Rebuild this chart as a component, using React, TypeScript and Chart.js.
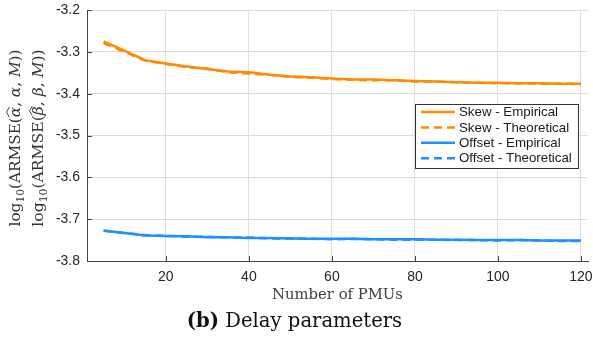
import React, { useEffect, useRef } from "react";
import { Chart, registerables } from "chart.js";

Chart.register(...registerables);

const PMUS = [5, 10, 15, 20, 25, 30, 35, 40, 45, 50, 55, 60, 65, 70, 75, 80, 85, 90, 95, 100, 105, 110, 115, 120];
const SKEW_EMP = [-3.275, -3.297, -3.32, -3.328, -3.335, -3.341, -3.347, -3.349, -3.355, -3.359, -3.361, -3.364, -3.366, -3.366, -3.368, -3.37, -3.371, -3.373, -3.374, -3.374, -3.375, -3.375, -3.376, -3.376];
const SKEW_THEO = [-3.279, -3.3, -3.321, -3.329, -3.337, -3.34, -3.349, -3.352, -3.355, -3.36, -3.362, -3.365, -3.367, -3.368, -3.368, -3.371, -3.371, -3.373, -3.374, -3.375, -3.375, -3.376, -3.376, -3.377];
const OFFSET_EMP = [-3.727, -3.733, -3.739, -3.74, -3.741, -3.743, -3.743, -3.745, -3.745, -3.746, -3.747, -3.747, -3.747, -3.748, -3.748, -3.748, -3.749, -3.749, -3.75, -3.75, -3.75, -3.751, -3.751, -3.751];
const OFFSET_THEO = [-3.728, -3.733, -3.738, -3.74, -3.742, -3.742, -3.744, -3.744, -3.746, -3.746, -3.747, -3.748, -3.747, -3.748, -3.749, -3.749, -3.749, -3.75, -3.75, -3.751, -3.75, -3.751, -3.752, -3.752];

const X_TICKS = [20, 40, 60, 80, 100, 120];
const Y_TICKS = [-3.8, -3.7, -3.6, -3.5, -3.4, -3.3, -3.2];
const SERIES_LABELS = ["Skew - Empirical", "Skew - Theoretical", "Offset - Empirical", "Offset - Theoretical"];
const X_TITLE = "Number of PMUs";
const CAPTION_BOLD = "(b)";
const CAPTION_TEXT = " Delay parameters";

const ORANGE = "rgb(255,140,0)";
const BLUE = "rgb(30,144,255)";
const AXIS_COLOR = "#444444";
const SERIF = "'DejaVu Serif', 'Liberation Serif', serif";
const SANS = "'Liberation Sans', Arial, sans-serif";

type Piece = { t: string; sub?: boolean; italic?: boolean; hat?: boolean };

function drawRichRotated(ctx: CanvasRenderingContext2D, pieces: Piece[], x: number, cy: number, targetLen: number) {
  const fontFor = (p: Piece, size: number) =>
    `${p.italic ? "italic " : ""}${p.sub ? Math.round(size * 0.7 * 10) / 10 : size}px ${SERIF}`;
  const measure = (size: number) => {
    let total = 0;
    const widths = pieces.map((p) => {
      ctx.font = fontFor(p, size);
      const w = ctx.measureText(p.t).width;
      total += w;
      return w;
    });
    return { total, widths };
  };
  const m0 = measure(16);
  const size = Math.round((16 * targetLen) / m0.total * 10) / 10;
  const { total, widths } = measure(size);
  ctx.save();
  ctx.translate(x, cy);
  ctx.rotate(-Math.PI / 2);
  ctx.fillStyle = "#333333";
  ctx.strokeStyle = "#333333";
  ctx.textAlign = "left";
  ctx.textBaseline = "alphabetic";
  let u = -total / 2;
  const base = size * 0.35;
  pieces.forEach((p, i) => {
    ctx.font = fontFor(p, size);
    const v = p.sub ? base + size * 0.22 : base;
    ctx.fillText(p.t, u, v);
    if (p.hat) {
      const w = widths[i];
      const top = base - size * 0.72;
      ctx.lineWidth = 0.9;
      ctx.beginPath();
      ctx.moveTo(u, top);
      ctx.lineTo(u + w / 2, top - size * 0.18);
      ctx.lineTo(u + w, top);
      ctx.stroke();
    }
    u += widths[i];
  });
  ctx.restore();
}

function fitSize(ctx: CanvasRenderingContext2D, parts: { t: string; bold?: boolean }[], target: number) {
  let w = 0;
  parts.forEach((p) => {
    ctx.font = `${p.bold ? "bold " : ""}16px ${SERIF}`;
    w += ctx.measureText(p.t).width;
  });
  return Math.round((16 * target) / w * 10) / 10;
}

const decorPlugin = {
  id: "decor",
  afterDraw(chart: any) {
    const ctx: CanvasRenderingContext2D = chart.ctx;
    const area = chart.chartArea;
    const xs = chart.scales.x;
    const ys = chart.scales.y;
    ctx.save();
    // inward ticks
    ctx.strokeStyle = AXIS_COLOR;
    ctx.lineWidth = 1;
    ctx.beginPath();
    X_TICKS.forEach((v) => {
      const px = Math.round(xs.getPixelForValue(v)) + 0.5;
      ctx.moveTo(px, area.bottom);
      ctx.lineTo(px, area.bottom - 5);
    });
    Y_TICKS.forEach((v) => {
      const py = Math.round(ys.getPixelForValue(v)) + 0.5;
      ctx.moveTo(area.left, py);
      ctx.lineTo(area.left + 5, py);
    });
    ctx.stroke();

    // legend
    const lx = 415.5, ly = 104.5, lw = 163, lh = 64;
    ctx.fillStyle = "#ffffff";
    ctx.fillRect(lx, ly, lw, lh);
    ctx.strokeStyle = "#333333";
    ctx.lineWidth = 1;
    ctx.strokeRect(lx, ly, lw, lh);
    const ds = chart.data.datasets;
    ctx.font = `13.3px ${SANS}`;
    ctx.textBaseline = "middle";
    ctx.textAlign = "left";
    ds.forEach((d: any, i: number) => {
      const y = 112 + i * 15.4;
      ctx.strokeStyle = d.borderColor;
      ctx.lineWidth = 2.5;
      ctx.setLineDash(d.borderDash && d.borderDash.length ? [8, 5] : []);
      ctx.beginPath();
      ctx.moveTo(421, y);
      ctx.lineTo(455, y);
      ctx.stroke();
      ctx.setLineDash([]);
      ctx.fillStyle = "#1a1a1a";
      ctx.fillText(d.label, 459, y + 0.5);
    });

    // x title
    const xtSize = fitSize(ctx, [{ t: X_TITLE }], 131);
    ctx.fillStyle = "#404040";
    ctx.font = `${xtSize}px ${SERIF}`;
    ctx.textAlign = "center";
    ctx.textBaseline = "middle";
    ctx.fillText(X_TITLE, 337.5, 295);

    // caption
    const capSize = fitSize(ctx, [{ t: CAPTION_BOLD, bold: true }, { t: CAPTION_TEXT }], 215);
    ctx.font = `bold ${capSize}px ${SERIF}`;
    const wb = ctx.measureText(CAPTION_BOLD).width;
    ctx.font = `${capSize}px ${SERIF}`;
    const wt = ctx.measureText(CAPTION_TEXT).width;
    const cx0 = 294.5 - (wb + wt) / 2;
    ctx.textAlign = "left";
    ctx.fillStyle = "#111111";
    ctx.font = `bold ${capSize}px ${SERIF}`;
    ctx.fillText(CAPTION_BOLD, cx0, 322);
    ctx.font = `${capSize}px ${SERIF}`;
    ctx.fillText(CAPTION_TEXT, cx0 + wb, 322);
    ctx.restore();

    // y title (two lines)
    const cy = 138;
    drawRichRotated(
      ctx,
      [
        { t: "log" },
        { t: "10", sub: true },
        { t: "(ARMSE(" },
        { t: "α", italic: true, hat: true },
        { t: ", " },
        { t: "α", italic: true },
        { t: ", " },
        { t: "M", italic: true },
        { t: "))" },
      ],
      15,
      cy,
      177
    );
    drawRichRotated(
      ctx,
      [
        { t: "log" },
        { t: "10", sub: true },
        { t: "(ARMSE(" },
        { t: "β", italic: true, hat: true },
        { t: ", " },
        { t: "β", italic: true },
        { t: ", " },
        { t: "M", italic: true },
        { t: "))" },
      ],
      38,
      cy,
      177
    );
  },
};

export default function App() {
  const ref = useRef<HTMLCanvasElement | null>(null);
  useEffect(() => {
    if (!ref.current) return;
    const mk = (ys: number[]) => PMUS.map((x, i) => ({ x, y: ys[i] }));
    const chart = new Chart(ref.current, {
      type: "line",
      data: {
        datasets: [
          { label: SERIES_LABELS[0], data: mk(SKEW_EMP), borderColor: ORANGE, borderWidth: 2.5, borderDash: [], pointRadius: 0, tension: 0 },
          { label: SERIES_LABELS[1], data: mk(SKEW_THEO), borderColor: ORANGE, borderWidth: 2.5, borderDash: [8, 5], pointRadius: 0, tension: 0 },
          { label: SERIES_LABELS[2], data: mk(OFFSET_EMP), borderColor: BLUE, borderWidth: 2.5, borderDash: [], pointRadius: 0, tension: 0 },
          { label: SERIES_LABELS[3], data: mk(OFFSET_THEO), borderColor: BLUE, borderWidth: 2.5, borderDash: [8, 5], pointRadius: 0, tension: 0 },
        ],
      },
      options: {
        animation: false,
        responsive: false,
        devicePixelRatio: 1,
        layout: { padding: { left: 0, right: 5, top: 10, bottom: 0 } },
        plugins: { legend: { display: false }, tooltip: { enabled: false } },
        scales: {
          x: {
            type: "linear",
            min: 1,
            max: 121.7,
            afterBuildTicks: (s: any) => {
              s.ticks = X_TICKS.map((v) => ({ value: v }));
            },
            afterFit: (s: any) => {
              s.height = 76;
              s.paddingLeft = 0;
              s.paddingRight = 0;
            },
            grid: { color: "#dedede", drawTicks: false, lineWidth: 1 },
            border: { display: true, color: AXIS_COLOR, width: 1 },
            ticks: { padding: 8, color: "#262626", font: { family: SANS, size: 14 }, maxRotation: 0 },
          },
          y: {
            type: "linear",
            min: -3.8,
            max: -3.2,
            afterBuildTicks: (s: any) => {
              s.ticks = Y_TICKS.map((v) => ({ value: v }));
            },
            afterFit: (s: any) => {
              s.width = 87;
              s.paddingTop = 0;
              s.paddingBottom = 0;
            },
            grid: { color: "#dedede", drawTicks: false, lineWidth: 1 },
            border: { display: true, color: AXIS_COLOR, width: 1 },
            ticks: {
              padding: 7,
              color: "#262626",
              font: { family: SANS, size: 14 },
              callback: (v: any) => Number(v).toFixed(1),
            },
          },
        },
      },
      plugins: [decorPlugin],
    } as any);
    return () => chart.destroy();
  }, []);
  return (
    <div style={{ position: "absolute", left: 0, top: 0, width: 593, height: 337, background: "#fff" }}>
      <canvas ref={ref} width={593} height={337} style={{ width: 593, height: 337, display: "block" }} />
    </div>
  );
}
